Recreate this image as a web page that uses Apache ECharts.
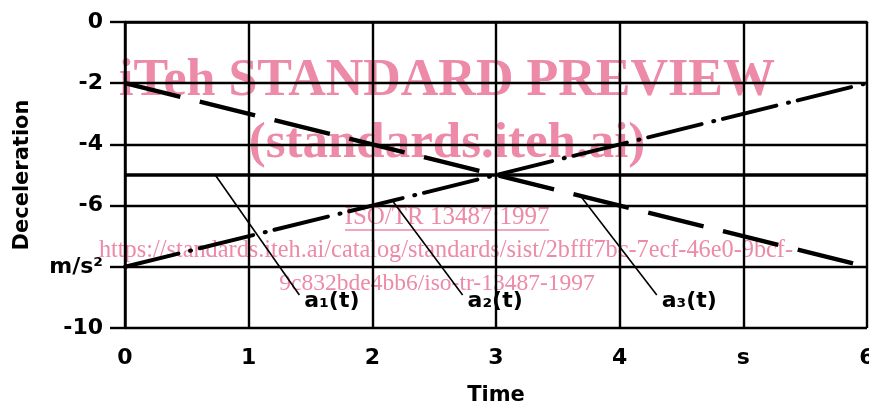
<!DOCTYPE html>
<html>
<head>
<meta charset="utf-8">
<script src="https://cdn.jsdelivr.net/npm/echarts@6/dist/echarts.min.js"></script>
<style>
html,body{margin:0;padding:0;background:#fff;}
#c{width:869px;height:406px;}
</style>
</head>
<body>
<div id="c"></div>
<script>
// ---- data ----
const xTickValues = [0, 1, 2, 3, 4, 5, 6];
const xTickLabels = ['0', '1', '2', '3', '4', 's', '6'];
const yTickValues = [0, -2, -4, -6, -8, -10];
const yTickLabels = ['0', '-2', '-4', '-6', 'm/s²', '-10'];

const a1Data = [[0, -5], [6, -5]];          // solid
const a2Data = [[0, -8], [6, -2]];          // dash-dot, rising
const a3Data = [[0, -2], [6, -8]];          // long dash, falling

// annotation leaders (data coordinates)
const leaderA1 = [[0.73, -5.0], [1.41, -8.92]];
const leaderA2 = [[2.17, -5.88], [2.73, -8.92]];
const leaderA3 = [[3.69, -5.72], [4.30, -8.92]];
const leaderNames = ['a₁(t)', 'a₂(t)', 'a₃(t)'];

const watermarkLines = [
  'iTeh STANDARD PREVIEW',
  '(standards.iteh.ai)',
  'ISO/TR 13487:1997',
  'https://standards.iteh.ai/catalog/standards/sist/2bfff7bc-7ecf-46e0-9bcf-',
  '9c832bde4bb6/iso-tr-13487-1997'
];

const FONT = '"DejaVu Sans", sans-serif';
const PINK = '#ec8aa8';

const chart = echarts.init(document.getElementById('c'), null, {renderer: 'canvas'});

function leaderSeries(data, name) {
  return {
    type: 'line',
    data: data,
    symbol: 'none',
    silent: true,
    animation: false,
    lineStyle: {color: '#000', width: 1.6},
    z: 3,
    endLabel: {
      show: true,
      formatter: name,
      color: '#000',
      fontFamily: FONT,
      fontWeight: 'bold',
      fontSize: 22,
      distance: 5,
      offset: [0, 6]
    }
  };
}

function wm(text, x, y, font) {
  return {type: 'text', z: -10, style: {text: text, x: x, y: y, textAlign: 'center', textVerticalAlign: 'top', fill: PINK, font: font}};
}

const option = {
  animation: false,
  backgroundColor: '#fff',
  grid: {left: 125, right: 2, top: 22, bottom: 78, outerBoundsMode: 'none', containLabel: false},
  xAxis: {
    type: 'value',
    min: 0, max: 6, interval: 1,
    name: 'Time',
    nameLocation: 'middle',
    nameGap: 57,
    nameTextStyle: {color: '#000', fontFamily: FONT, fontWeight: 'bold', fontSize: 21},
    axisLine: {show: true, lineStyle: {color: '#000', width: 2.5}},
    axisTick: {show: true, length: 10, lineStyle: {color: '#000', width: 2}},
    axisLabel: {
      color: '#000', fontFamily: FONT, fontWeight: 'bold', fontSize: 22, margin: 19,
      showMinLabel: true, showMaxLabel: true, hideOverlap: false,
      formatter: function (v) { const i = xTickValues.indexOf(v); return i >= 0 ? xTickLabels[i] : ''; }
    },
    splitLine: {show: true, showMinLine: true, showMaxLine: true, lineStyle: {color: '#000', width: 2.4}}
  },
  yAxis: {
    type: 'value',
    min: -10, max: 0, interval: 2,
    name: 'Deceleration',
    nameLocation: 'middle',
    nameGap: 92,
    nameRotate: 90,
    nameTextStyle: {color: '#000', fontFamily: FONT, fontWeight: 'bold', fontSize: 21},
    axisLine: {show: true, lineStyle: {color: '#000', width: 2.5}},
    axisTick: {show: true, length: 15, lineStyle: {color: '#000', width: 2.4}},
    axisLabel: {
      color: '#000', fontFamily: FONT, fontWeight: 'bold', fontSize: 22, margin: 22,
      showMinLabel: true, showMaxLabel: true, hideOverlap: false,
      formatter: function (v) { const i = yTickValues.indexOf(v); return i >= 0 ? yTickLabels[i] : ''; }
    },
    splitLine: {show: true, showMinLine: true, showMaxLine: true, lineStyle: {color: '#000', width: 2.4}}
  },
  graphic: [
    wm(watermarkLines[0], 447, 56, 'bold 52px "Liberation Serif", serif'),
    wm(watermarkLines[1], 447, 118, 'bold 51px "Liberation Serif", serif'),
    wm(watermarkLines[2], 447, 205, '25px "Liberation Serif", serif'),
    {type: 'line', z: -10, shape: {x1: 345, y1: 230, x2: 549, y2: 230}, style: {stroke: PINK, lineWidth: 1.5}},
    wm(watermarkLines[3], 446, 239, '24.3px "Liberation Serif", serif'),
    wm(watermarkLines[4], 437, 272, '23.5px "Liberation Serif", serif')
  ],
  series: [
    {
      name: 'a1', type: 'line', data: a1Data, symbol: 'none', silent: true, z: 4,
      lineStyle: {color: '#000', width: 3.4, type: 'solid'}
    },
    {
      name: 'a2', type: 'line', data: a2Data, symbol: 'none', silent: true, z: 4,
      lineStyle: {color: '#000', width: 4, type: [55, 12, 1, 9], cap: 'round'}
    },
    {
      name: 'a3', type: 'line', data: a3Data, symbol: 'none', silent: true, z: 4,
      lineStyle: {color: '#000', width: 4.4, type: [57, 20], cap: 'butt'}
    },
    leaderSeries(leaderA1, leaderNames[0]),
    leaderSeries(leaderA2, leaderNames[1]),
    leaderSeries(leaderA3, leaderNames[2])
  ]
};
chart.setOption(option);
</script>
</body>
</html>
